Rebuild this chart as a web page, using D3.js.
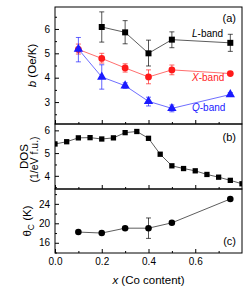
<!DOCTYPE html>
<html>
<head>
<meta charset="utf-8">
<script src="https://cdn.jsdelivr.net/npm/d3@7"></script>
<style>
  body { margin: 0; background: #fff; }
  text { font-family: "Liberation Sans", Arial, sans-serif; }
</style>
</head>
<body>
<div id="container"></div>
<script>
/* CONSTANTS AND GLOBALS */
const width = 249,
  height = 294,
  left = 55,
  right = 242

// panel (a): b parameter vs Co content
const xBand = [0.1, 0.2, 0.3, 0.4, 0.5, 0.75]
const bX = [5.16, 4.79, 4.40, 4.03, 4.32, 4.17]
const bXlo = [4.97, 4.60, 4.23, 3.75, 4.12, 4.10]
const bXhi = [5.38, 5.00, 4.57, 4.32, 4.52, 4.24]

const xL = [0.2, 0.3, 0.4, 0.5, 0.75]
const bL = [6.08, 5.86, 5.00, 5.56, 5.43]
const bLlo = [5.46, 5.39, 4.48, 5.23, 5.08]
const bLhi = [6.70, 6.34, 5.54, 5.88, 5.78]

const bQ = [5.17, 4.03, 3.67, 3.03, 2.74, 3.31]
const bQlo = [4.65, 3.53, 3.56, 2.84, 2.60, 3.24]
const bQhi = [5.65, 4.53, 3.79, 3.20, 2.88, 3.39]

// panel (b): density of states
const xDos = [0, 0.05, 0.1, 0.15, 0.2, 0.25, 0.3, 0.35, 0.4, 0.45, 0.5, 0.55, 0.6, 0.65, 0.7, 0.75, 0.8]
const dos = [5.40, 5.50, 5.67, 5.68, 5.62, 5.67, 5.90, 5.95, 5.65, 4.95, 4.44, 4.32, 4.22, 4.06, 3.94, 3.80, 3.65]

// panel (c): Curie-Weiss temperature
const xTheta = [0.1, 0.2, 0.3, 0.4, 0.5, 0.75]
const theta = [18.2, 18.0, 19.0, 19.0, 20.1, 25.0]
const thetaLo = [null, null, null, 16.9, null, null]
const thetaHi = [null, null, null, 21.1, null, null]

const xTicks = [0, 0.2, 0.4, 0.6]
const xMinor = [0.1, 0.3, 0.5, 0.7]

const svg = d3.select("#container")
  .append("svg")
  .attr("width", width)
  .attr("height", height)

const xScale = d3.scaleLinear()
  .domain([0, 0.8])
  .range([left, right])

const panels = [
  { id: "a", top: 7, bottom: 124, domain: [2.1, 6.9], ticks: [3, 4, 5, 6], minor: [2.5, 3.5, 4.5, 5.5, 6.5] },
  { id: "b", top: 124, bottom: 189, domain: [3.42, 6.28], ticks: [4, 5, 6], minor: [3.5, 4.5, 5.5] },
  { id: "c", top: 189, bottom: 253, domain: [13.9, 27.05], ticks: [16, 20, 24], minor: [14, 18, 22, 26] }
]

panels.forEach(p => {
  p.y = d3.scaleLinear().domain(p.domain).range([p.bottom, p.top])

  svg.append("clipPath")
    .attr("id", "clip-" + p.id)
    .append("rect")
    .attr("x", left)
    .attr("y", p.top)
    .attr("width", right - left)
    .attr("height", p.bottom - p.top)

  // y axis, ticks inside
  const gy = svg.append("g")
    .attr("transform", `translate(${left},0)`)
    .call(d3.axisLeft(p.y).tickValues(p.ticks).tickSize(-4).tickPadding(5).tickFormat(d3.format("d")))
  gy.select(".domain").remove()
  gy.selectAll("text").style("font-size", "10px").attr("fill", "#000")

  svg.append("g")
    .attr("transform", `translate(${left},0)`)
    .call(d3.axisLeft(p.y).tickValues(p.minor).tickSize(-2).tickFormat(""))
    .select(".domain").remove()

  // x axis, ticks inside
  const gx = svg.append("g")
    .attr("transform", `translate(0,${p.bottom})`)
    .call(d3.axisBottom(xScale).tickValues(xTicks).tickSize(-4).tickPadding(5)
      .tickFormat(p.id == "c" ? d3.format(".1f") : ""))
  gx.select(".domain").remove()
  gx.selectAll("text").style("font-size", "10px").attr("fill", "#000")

  svg.append("g")
    .attr("transform", `translate(0,${p.bottom})`)
    .call(d3.axisBottom(xScale).tickValues(xMinor).tickSize(-2).tickFormat(""))
    .select(".domain").remove()

  // frame
  svg.append("rect")
    .attr("x", left)
    .attr("y", p.top)
    .attr("width", right - left)
    .attr("height", p.bottom - p.top)
    .attr("fill", "none")
    .attr("stroke", "#000")
    .attr("stroke-width", 1)

  svg.append("text")
    .attr("x", right - 6)
    .attr("y", p.id == "a" ? p.top + 15 : p.id == "b" ? p.top + 17 : p.bottom - 8)
    .attr("text-anchor", "end")
    .style("font-size", "11px")
    .text(`(${p.id})`)
})

const [pa, pb, pc] = panels

function drawSeries(panel, xs, ys, lo, hi, color, shape, size) {
  const g = svg.append("g").attr("clip-path", `url(#clip-${panel.id})`)
  const data = xs.map((x, i) => ({ x, y: ys[i], lo: lo ? lo[i] : null, hi: hi ? hi[i] : null }))

  g.append("path")
    .datum(data)
    .attr("fill", "none")
    .attr("stroke", color)
    .attr("stroke-opacity", 0.8)
    .attr("stroke-width", 0.8)
    .attr("d", d3.line().x(d => xScale(d.x)).y(d => panel.y(d.y)))

  const eb = data.filter(d => d.lo != null)
  g.selectAll(".err")
    .data(eb)
    .join("path")
    .attr("fill", "none")
    .attr("stroke", color)
    .attr("stroke-opacity", 0.75)
    .attr("stroke-width", 0.9)
    .attr("d", d => {
      const x = xScale(d.x), y0 = panel.y(d.lo), y1 = panel.y(d.hi)
      return `M${x},${y0}V${y1}M${x - 2.5},${y0}H${x + 2.5}M${x - 2.5},${y1}H${x + 2.5}`
    })

  g.selectAll(".pt")
    .data(data)
    .join("path")
    .attr("fill", color)
    .attr("transform", d => `translate(${xScale(d.x)},${panel.y(d.y)})`)
    .attr("d", d3.symbol().type(shape).size(size))
}

drawSeries(pa, xL, bL, bLlo, bLhi, "#000", d3.symbolSquare, 36)
drawSeries(pa, xBand, bX, bXlo, bXhi, "#ff1a1a", d3.symbolCircle, 36)
drawSeries(pa, xBand, bQ, bQlo, bQhi, "#1a1aff", d3.symbolTriangle, 38)
drawSeries(pb, xDos, dos, null, null, "#000", d3.symbolSquare, 28)
drawSeries(pc, xTheta, theta, thetaLo, thetaHi, "#000", d3.symbolCircle, 34)

// band labels
const bandLabels = [
  { letter: "L", rest: "-band", color: "#000", y: 5.66 },
  { letter: "X", rest: "-band", color: "#ff1a1a", y: 3.86 },
  { letter: "Q", rest: "-band", color: "#1a1aff", y: 2.64 }
]
bandLabels.forEach(l => {
  const t = svg.append("text")
    .attr("x", 192)
    .attr("y", pa.y(l.y))
    .attr("fill", l.color)
    .style("font-size", "10px")
  t.append("tspan").style("font-style", "italic").text(l.letter)
  t.append("tspan").text(l.rest)
})

// axis titles
const ta = svg.append("text")
  .attr("transform", `translate(36,${(pa.top + pa.bottom) / 2}) rotate(-90)`)
  .attr("text-anchor", "middle")
  .style("font-size", "11.5px")
ta.append("tspan").style("font-style", "italic").text("b")
ta.append("tspan").text(" (Oe/K)")

svg.append("text")
  .attr("transform", `translate(28,${(pb.top + pb.bottom) / 2}) rotate(-90)`)
  .attr("text-anchor", "middle")
  .style("font-size", "11.5px")
  .text("DOS")
svg.append("text")
  .attr("transform", `translate(38,${(pb.top + pb.bottom) / 2 + 3}) rotate(-90)`)
  .attr("text-anchor", "middle")
  .style("font-size", "10.5px")
  .text("(1/eV f.u.)")

const tc = svg.append("text")
  .attr("transform", `translate(31,${(pc.top + pc.bottom) / 2}) rotate(-90)`)
  .attr("text-anchor", "middle")
  .style("font-size", "11.5px")
tc.append("tspan").text("θ")
tc.append("tspan").attr("dy", 3).style("font-size", "8.5px").text("C")
tc.append("tspan").attr("dy", -3).text(" (K)")

const tx = svg.append("text")
  .attr("x", (left + right) / 2)
  .attr("y", 284)
  .attr("text-anchor", "middle")
  .style("font-size", "11.5px")
tx.append("tspan").style("font-style", "italic").text("x")
tx.append("tspan").text(" (Co content)")
</script>
</body>
</html>
